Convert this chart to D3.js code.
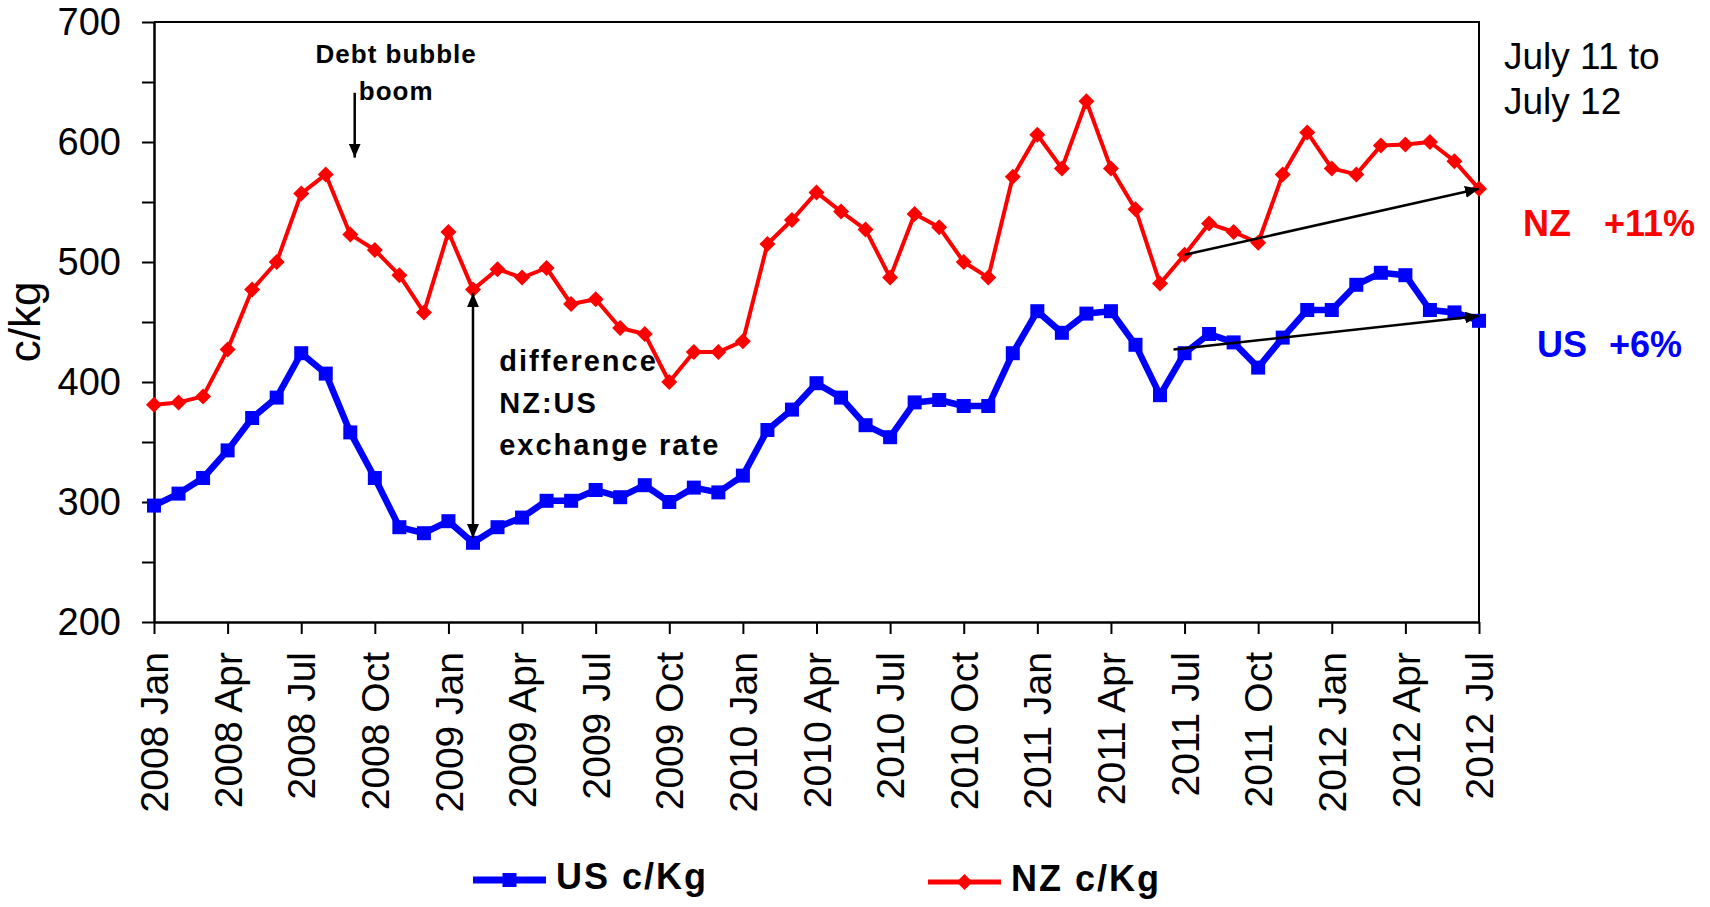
<!DOCTYPE html>
<html>
<head>
<meta charset="utf-8">
<script src="https://cdn.jsdelivr.net/npm/d3@7"></script>
<style>
  body { margin: 0; background: #fff; }
  text { font-family: "Liberation Sans", Arial, sans-serif; }
</style>
</head>
<body>
<div id="chart"></div>
<script>
// monthly prices, Jan 2008 .. Jul 2012
const months = [
  "2008 Jan", "2008 Feb", "2008 Mar", "2008 Apr", "2008 May", "2008 Jun", "2008 Jul", "2008 Aug", "2008 Sep", "2008 Oct", "2008 Nov", "2008 Dec",
  "2009 Jan", "2009 Feb", "2009 Mar", "2009 Apr", "2009 May", "2009 Jun", "2009 Jul", "2009 Aug", "2009 Sep", "2009 Oct", "2009 Nov", "2009 Dec",
  "2010 Jan", "2010 Feb", "2010 Mar", "2010 Apr", "2010 May", "2010 Jun", "2010 Jul", "2010 Aug", "2010 Sep", "2010 Oct", "2010 Nov", "2010 Dec",
  "2011 Jan", "2011 Feb", "2011 Mar", "2011 Apr", "2011 May", "2011 Jun", "2011 Jul", "2011 Aug", "2011 Sep", "2011 Oct", "2011 Nov", "2011 Dec",
  "2012 Jan", "2012 Feb", "2012 Mar", "2012 Apr", "2012 May", "2012 Jun", "2012 Jul"
]

const usValues = [
  297, 307, 320, 343, 370, 387, 424, 407, 358, 320, 279, 274,
  284, 266, 279, 287, 301, 301, 310, 304, 314, 300, 312, 308,
  322, 360, 377, 399, 387, 364, 354, 383, 385, 380, 380, 424,
  459, 441, 457, 459, 431, 389, 424, 440, 433, 412, 437, 460,
  460, 481, 491, 489, 460, 458, 451
]

const nzValues = [
  381, 383, 388, 427, 477, 500, 557, 573, 523, 510, 489, 458,
  525, 477, 494, 487, 495, 465, 469, 445, 440, 400, 425, 425,
  434, 515, 535, 558, 542, 527, 487, 540, 529, 500, 487, 571,
  606, 578, 634, 578, 544, 482, 506, 532, 525, 516, 573, 608,
  578, 573, 597, 598, 600, 584, 561
]

const tickLabels = ["2008 Jan", "2008 Apr", "2008 Jul", "2008 Oct", "2009 Jan", "2009 Apr", "2009 Jul", "2009 Oct",
  "2010 Jan", "2010 Apr", "2010 Jul", "2010 Oct", "2011 Jan", "2011 Apr", "2011 Jul", "2011 Oct",
  "2012 Jan", "2012 Apr", "2012 Jul"]

const yTicks = [200, 250, 300, 350, 400, 450, 500, 550, 600, 650, 700]

// arrows in data space: [month index, value]
const arrows = [
  { from: [8.18, 641], to: [8.18, 587] },
  { from: [13, 270], to: [13, 474], both: true },
  { from: [42, 506], to: [54, 561] },
  { from: [41.55, 427], to: [54, 455] }
]

const W = 1710, H = 907
const margin = { top: 22, left: 154 }
const width = 1325, height = 600

const svg = d3.select("#chart").append("svg")
  .attr("width", W)
  .attr("height", H)

const defs = svg.append("defs")
defs.append("marker")
  .attr("id", "head")
  .attr("viewBox", "0 0 14 12")
  .attr("refX", 14).attr("refY", 6)
  .attr("markerWidth", 14).attr("markerHeight", 12)
  .attr("markerUnits", "userSpaceOnUse")
  .attr("orient", "auto-start-reverse")
  .append("path").attr("d", "M0,0L14,6L0,12Z").attr("fill", "#000")

const g = svg.append("g").attr("transform", `translate(${margin.left},${margin.top})`)

const x = d3.scaleLinear([0, months.length - 1], [0, width])
const y = d3.scaleLinear([200, 700], [height, 0])

// frame top + right
g.append("path")
  .attr("d", `M0,0H${width}V${height}`)
  .attr("fill", "none").attr("stroke", "#000").attr("stroke-width", 2)

const xAxis = g.append("g")
  .attr("transform", `translate(0,${height})`)
  .call(d3.axisBottom(x)
    .tickValues(tickLabels.map(l => months.indexOf(l)))
    .tickFormat(i => months[i])
    .tickSize(12).tickSizeOuter(0))
xAxis.select(".domain").attr("stroke-width", 2.5)
xAxis.selectAll(".tick line").attr("stroke-width", 2)
xAxis.selectAll(".tick text")
  .attr("font-size", 39)
  .attr("fill", "#000")
  .attr("text-anchor", "end")
  .attr("transform", "rotate(-90)")
  .attr("x", -30).attr("y", 0).attr("dy", "0.35em")

const yAxis = g.append("g")
  .call(d3.axisLeft(y)
    .tickValues(yTicks)
    .tickFormat(d => d % 100 === 0 ? d : "")
    .tickSize(12).tickSizeOuter(0).tickPadding(21))
yAxis.select(".domain").attr("stroke-width", 2.5)
yAxis.selectAll(".tick line").attr("stroke-width", 2)
yAxis.selectAll(".tick text").attr("font-size", 38).attr("fill", "#000")

g.append("text")
  .attr("transform", `translate(${40 - margin.left},${height / 2}) rotate(-90)`)
  .attr("text-anchor", "middle")
  .attr("font-size", 44)
  .text("c/kg")

const line = d3.line().x((d, i) => x(i)).y(d => y(d))
const square = d3.symbol(d3.symbolSquare, 196)
const diamond = d3.symbol(d3.symbolSquare, 128)

g.append("path").datum(usValues)
  .attr("d", line).attr("fill", "none")
  .attr("stroke", "#0000ff").attr("stroke-width", 6.5).attr("stroke-linejoin", "round")
g.selectAll("path.us").data(usValues).enter().append("path")
  .attr("class", "us")
  .attr("d", square)
  .attr("transform", (d, i) => `translate(${x(i)},${y(d)})`)
  .attr("fill", "#0000ff")

g.append("path").datum(nzValues)
  .attr("d", line).attr("fill", "none")
  .attr("stroke", "#ff0000").attr("stroke-width", 4).attr("stroke-linejoin", "round")
g.selectAll("path.nz").data(nzValues).enter().append("path")
  .attr("class", "nz")
  .attr("d", diamond)
  .attr("transform", (d, i) => `translate(${x(i)},${y(d)}) rotate(45)`)
  .attr("fill", "#ff0000")

g.selectAll("line.arrow").data(arrows).enter().append("line")
  .attr("class", "arrow")
  .attr("x1", d => x(d.from[0])).attr("y1", d => y(d.from[1]))
  .attr("x2", d => x(d.to[0])).attr("y2", d => y(d.to[1]))
  .attr("stroke", "#000").attr("stroke-width", 2.5)
  .attr("marker-end", "url(#head)")
  .attr("marker-start", d => d.both ? "url(#head)" : null)

// annotations
const debt = g.append("text")
  .attr("text-anchor", "middle").attr("font-size", 26).attr("font-weight", "bold")
  .attr("letter-spacing", 1)
debt.append("tspan").attr("x", x(9.87)).attr("y", y(666)).text("Debt bubble")
debt.append("tspan").attr("x", x(9.87)).attr("y", y(635)).text("boom")

const diff = g.append("text")
  .attr("font-size", 29).attr("font-weight", "bold").attr("letter-spacing", 2)
;["difference", "NZ:US", "exchange rate"].forEach((t, i) => {
  diff.append("tspan").attr("x", x(14.07)).attr("y", y(409 - i * 35)).text(t)
})

const note = svg.append("text").attr("font-size", 37)
note.append("tspan").attr("x", 1504).attr("y", 69).text("July 11 to")
note.append("tspan").attr("x", 1504).attr("y", 114).text("July 12")

svg.append("text").attr("x", 1523).attr("y", 236)
  .attr("font-size", 36).attr("font-weight", "bold").attr("fill", "#ff0000").text("NZ")
svg.append("text").attr("x", 1604).attr("y", 236)
  .attr("font-size", 36).attr("font-weight", "bold").attr("fill", "#ff0000").text("+11%")
svg.append("text").attr("x", 1537).attr("y", 357)
  .attr("font-size", 36).attr("font-weight", "bold").attr("fill", "#0000ff").text("US")
svg.append("text").attr("x", 1609).attr("y", 357)
  .attr("font-size", 36).attr("font-weight", "bold").attr("fill", "#0000ff").text("+6%")

// legend
const legend = [
  { name: "US c/Kg", color: "#0000ff", x0: 473, y0: 880, sw: 7, sym: square, rot: 0 },
  { name: "NZ c/Kg", color: "#ff0000", x0: 928, y0: 882, sw: 5, sym: diamond, rot: 45 }
]
const lg = svg.selectAll("g.legend").data(legend).enter().append("g")
  .attr("class", "legend")
  .attr("transform", d => `translate(${d.x0},${d.y0})`)
lg.append("line").attr("x1", 0).attr("x2", 73)
  .attr("stroke", d => d.color).attr("stroke-width", d => d.sw)
lg.append("path").attr("d", d => d.sym())
  .attr("transform", d => `translate(36.5,0) rotate(${d.rot})`)
  .attr("fill", d => d.color)
lg.append("text").attr("x", 83).attr("y", 9)
  .attr("font-size", 36).attr("font-weight", "bold").attr("letter-spacing", 2)
  .text(d => d.name)
</script>
</body>
</html>
